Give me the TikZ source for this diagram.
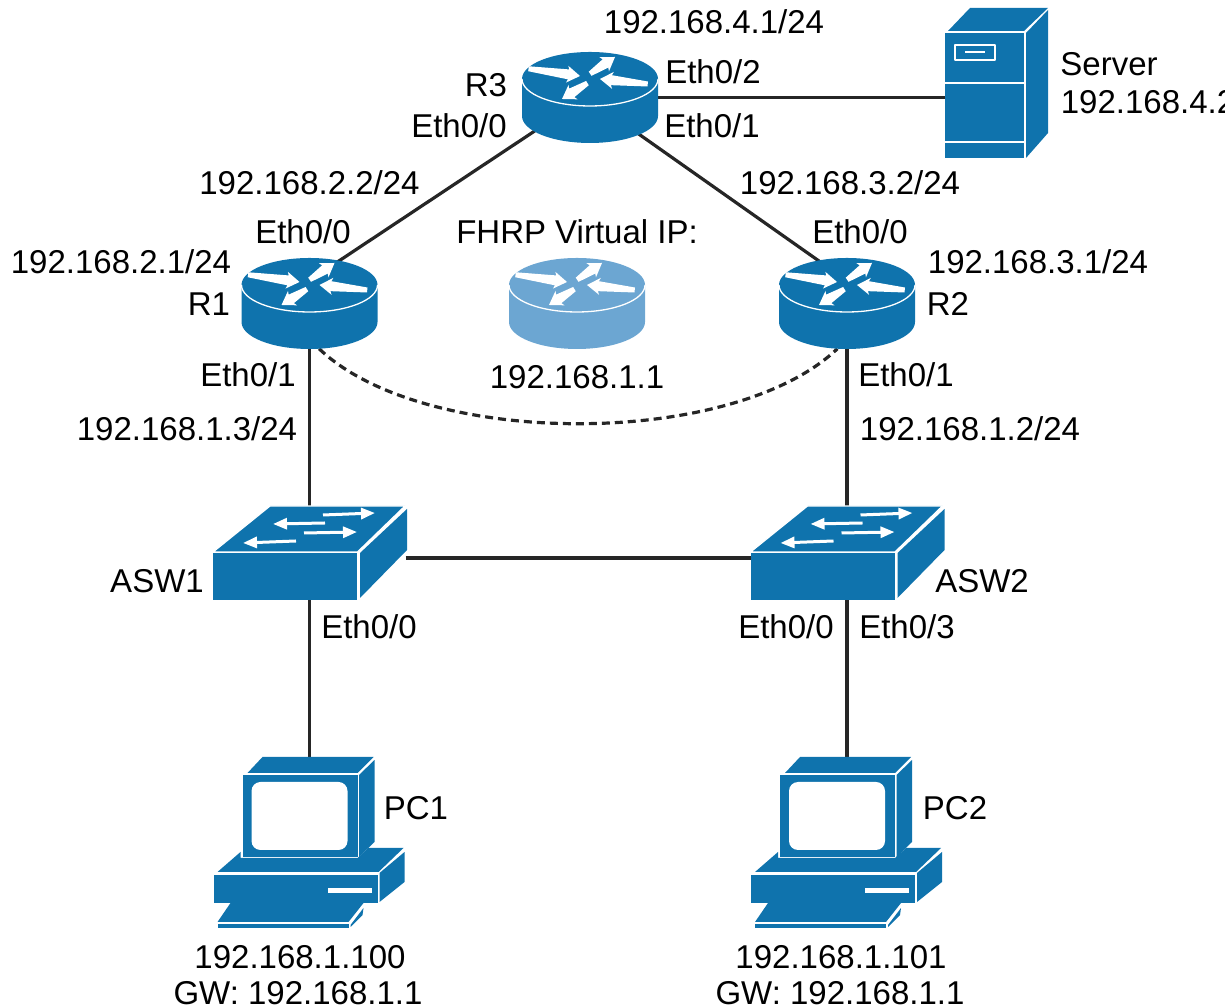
\documentclass[tikz,border=0pt]{standalone}
\usepackage{fontspec}
\setmainfont{Liberation Sans}
\usetikzlibrary{shapes.geometric,arrows.meta,positioning}

\definecolor{iconblue}{RGB}{15,115,173}
\definecolor{iconlight}{RGB}{108,166,210}

\newcommand{\flowarrow}[4]{\fill[white,shift={(#1,#2)},rotate=#3] (0,0) -- (-13,8.5) -- (-11.5,5) -- (-#4,2.5) -- (-#4,-2.5) -- (-11.5,-5) -- (-13,-8.5) -- cycle;}

\tikzset{
  lbl/.style={inner sep=0pt,text height=24pt,text depth=0pt,font=\fontsize{33}{38}\selectfont},
  routerbox/.style={ellipse,inner sep=0pt,minimum width=136pt,minimum height=91pt},
  switchbox/.style={rectangle,inner sep=0pt,minimum width=192pt,minimum height=94pt},
  pcbox/.style={rectangle,inner sep=0pt,minimum width=191pt,minimum height=171pt},
  serverbox/.style={rectangle,inner sep=0pt,minimum width=103pt,minimum height=150pt},
  link/.style={line width=3.2pt,black!85},
  thinflow/.style={white,line width=3pt,-{Triangle[width=11pt,length=14pt]}},
  edge/.style={draw=white,line width=1.3pt,line join=round},
  pics/routericon/.style={code={
    \fill[#1] (-68,18.5) -- (-68,-18.5) arc[start angle=180,end angle=360,x radius=68,y radius=27] -- (68,18.5) -- cycle;
    \fill[#1] (0,18.5) ellipse[x radius=68,y radius=27];
    \draw[white,line width=1.3pt] (-68,18.5) arc[start angle=180,end angle=360,x radius=68,y radius=27];
    \flowarrow{-10}{21.5}{-8}{52}
    \flowarrow{25}{40.5}{34}{30}
    \flowarrow{10}{18.5}{174}{48}
    \flowarrow{-28}{-1.5}{212}{30}
  }},
  pics/switchicon/.style={code={
    \fill[iconblue] (-96.5,0) rectangle (47.5,-47);
    \filldraw[fill=iconblue,edge] (-96.5,1) -- (-39.5,47) -- (95.5,47) -- (48,1) -- cycle;
    \fill[iconblue] (50.5,0) -- (97.5,44) -- (97.5,3) -- (50.5,-45) -- cycle;
    \draw[thinflow] (13.5,38) -- (65.5,40);
    \draw[thinflow] (15.5,30) -- (-36.5,29);
    \draw[thinflow] (-5.5,20) -- (47.5,21);
    \draw[thinflow] (-13.5,12) -- (-66.5,10);
  }},
  pics/pcicon/.style={code={
    \fill[iconblue] (-62,69.5) -- (-47,85.5) -- (64,85.5) -- (48,69.5) -- cycle;
    \fill[iconblue] (-67,67.5) rectangle (48,-14.5);
    \fill[white,rounded corners=9pt] (-58,60.5) rectangle (38,-7.5);
    \fill[iconblue] (49.5,67.5) -- (65,82.5) -- (65,.5) -- (49.5,-14.5) -- cycle;
    \fill[iconblue] (-69,-9.5) -- (-92,-29.5) -- (69,-29.5) -- (94,-5.5) -- (59,-5.5) -- (48,-15.5) -- (-69,-15.5) -- cycle;
    \fill[iconblue] (-96,-32.5) rectangle (68,-60.5);
    \fill[white] (18,-45.5) rectangle (62,-50.5);
    \fill[iconblue] (70,-30.5) -- (95,-9.5) -- (95,-39.5) -- (70,-59.5) -- cycle;
    \fill[iconblue] (-79,-60.5) -- (54,-60.5) -- (39,-79.5) -- (-92,-79.5) -- cycle;
    \fill[iconblue] (-92,-81.5) rectangle (39,-85.5);
    \fill[iconblue] (41,-82.5) -- (54,-65.5) -- (53,-72.5) -- (41,-84.5) -- cycle;
  }},
  pics/servericon/.style={code={
    \fill[iconblue] (-51.5,50) rectangle (27.5,-75);
    \draw[edge] (-51.5,0) -- (27.5,0);
    \draw[edge] (-51.5,-59) -- (27.5,-59);
    \fill[iconblue] (-48.5,52) -- (-26.5,75) -- (51.5,75) -- (27.5,52) -- cycle;
    \fill[iconblue] (29.5,50) -- (51.5,73) -- (51.5,-50) -- (29.5,-75) -- cycle;
    \draw[edge] (-41.5,38) rectangle (-1.5,23);
    \draw[edge] (-31.5,31) -- (-11.5,31);
  }},
}

\begin{document}
\begin{tikzpicture}[x=1pt,y=1pt,on grid]
  \clip (0,0) rectangle (1225,1008);
  \useasboundingbox (0,0) rectangle (1225,1008);

  % devices
  \node[routerbox] (R1) at (309.5,704.5) {};
  \node[routerbox] (R2) [right=537.5pt of R1] {};
  \node[routerbox] (R3) [above right=206pt and 280.5pt of R1] {};
  \node[routerbox] (vip) [right=267.5pt of R1] {};
  \node[serverbox] (Server) [above right=14.5pt and 406.5pt of R3] {};
  \node[switchbox] (ASW1) [below=249.5pt of R1] {};
  \node[switchbox] (ASW2) [below=249.5pt of R2] {};
  \node[pcbox] (PC1) [below=289.5pt of ASW1] {};
  \node[pcbox] (PC2) [below=289.5pt of ASW2] {};

  % links
  \draw[link] (R3.east) -- (R3.east -| Server.west);
  \draw[link] (R3.211) -- (R1.56);
  \draw[link] (R3.-37) -- (R2.123);
  \draw[link] (R1.south) -- (ASW1.north);
  \draw[link] (R2.south) -- (ASW2.north);
  \draw[link] ([yshift=-5pt]ASW1.east) -- ([yshift=-5pt]ASW2.west);
  \draw[link] (ASW1.south) -- (PC1.north);
  \draw[link] (ASW2.south) -- (PC2.north);
  \draw[link,dash pattern=on 8pt off 5pt] (R1.-78) .. controls +(105,-100) and +(-105,-100) .. (R2.-102);

  % icons
  \pic at (R1) {routericon=iconblue};
  \pic at (R2) {routericon=iconblue};
  \pic at (R3) {routericon=iconblue};
  \pic at (vip) {routericon=iconlight};
  \pic at (ASW1) {switchicon};
  \pic at (ASW2) {switchicon};
  \pic at (PC1) {pcicon};
  \pic at (PC2) {pcicon};
  \pic at (Server) {servericon};

  % labels
  \node[lbl] (r3ip) [above right=75.5pt and 124pt of R3] {192.168.4.1/24};
  \node[lbl] (r3name) [above left=12.5pt and 104pt of R3] {R3};
  \node[lbl] (r3eth2) [above right=25.5pt and 123pt of R3] {Eth0/2};
  \node[lbl] (r3eth1) [below right=28.5pt and 122pt of R3] {Eth0/1};
  \node[lbl] (r3eth0) [below left=28.5pt and 131pt of R3] {Eth0/0};
  \node[lbl] (r3ipa) [above=120.5pt of R1] {192.168.2.2/24};
  \node[lbl] (r3ipb) [above right=120.5pt and 3pt of R2] {192.168.3.2/24};
  \node[lbl] (r1eth0) [above left=71.5pt and 6.5pt of R1] {Eth0/0};
  \node[lbl] (r2eth0) [above right=71.5pt and 13pt of R2] {Eth0/0};
  \node[lbl] (r1ip) [above left=41.5pt and 188.5pt of R1] {192.168.2.1/24};
  \node[lbl] (r2ip) [above right=41.5pt and 191pt of R2] {192.168.3.1/24};
  \node[lbl] (r1name) [left=100.5pt of R1] {R1};
  \node[lbl] (r2name) [right=101pt of R2] {R2};
  \node[lbl] (viptitle) [above=71.5pt of vip] {FHRP Virtual IP:};
  \node[lbl] (vipip) [below=73.5pt of vip] {192.168.1.1};
  \node[lbl] (r1eth1) [below left=71.5pt and 61.5pt of R1] {Eth0/1};
  \node[lbl] (r2eth1) [below right=71.5pt and 59pt of R2] {Eth0/1};
  \node[lbl] (r1lan) [below left=125.5pt and 122.5pt of R1] {192.168.1.3/24};
  \node[lbl] (r2lan) [below right=125.5pt and 123pt of R2] {192.168.1.2/24};
  \node[lbl] (asw1name) [below left=28pt and 152.5pt of ASW1] {ASW1};
  \node[lbl] (asw2name) [below right=28pt and 135pt of ASW2] {ASW2};
  \node[lbl] (asw1eth0) [below right=74pt and 59.5pt of ASW1] {Eth0/0};
  \node[lbl] (asw2eth0) [below left=74pt and 61pt of ASW2] {Eth0/0};
  \node[lbl] (asw2eth3) [below right=74pt and 60pt of ASW2] {Eth0/3};
  \node[lbl] (pc1name) [above right=34.5pt and 106.5pt of PC1] {PC1};
  \node[lbl] (pc2name) [above right=34.5pt and 108pt of PC2] {PC2};
  \node[lbl] (pc1ip) [below left=114.5pt and 9.5pt of PC1] {192.168.1.100};
  \node[lbl] (pc1gw) [below left=150.5pt and 11.5pt of PC1] {GW: 192.168.1.1};
  \node[lbl] (pc2ip) [below left=114.5pt and 6pt of PC2] {192.168.1.101};
  \node[lbl] (pc2gw) [below left=150.5pt and 7pt of PC2] {GW: 192.168.1.1};
  \node[lbl] (srvname) [above right=19pt and 112.5pt of Server] {Server};
  \node[lbl] (srvip) [below right=19pt and 151.5pt of Server] {192.168.4.2};
\end{tikzpicture}
\end{document}
